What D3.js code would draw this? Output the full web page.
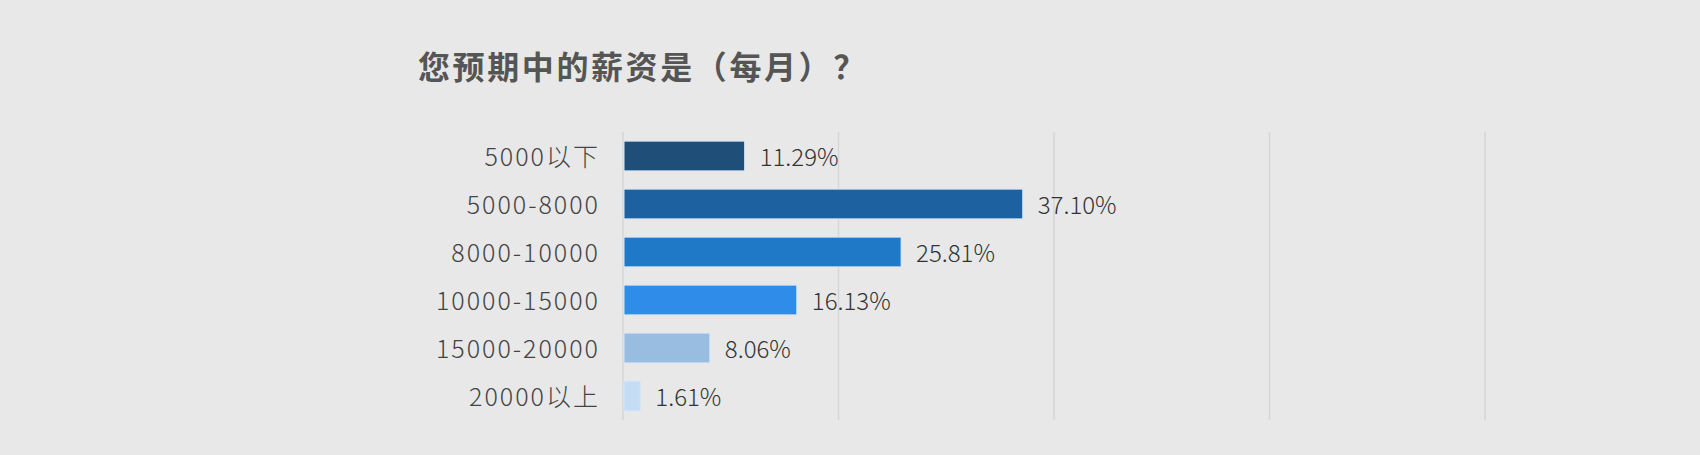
<!DOCTYPE html>
<html>
<head>
<meta charset="utf-8">
<script src="https://cdn.jsdelivr.net/npm/d3@7"></script>
<style>
  html, body { margin: 0; padding: 0; background: #e8e8e8; }
  svg { display: block; }
</style>
</head>
<body>
<div id="chart"></div>
<script>
(function () {
    'use strict';

    var titleText = '您预期中的薪资是（每月）？';
    var categories = ['5000以下', '5000-8000', '8000-10000', '10000-15000', '15000-20000', '20000以上'];
    var percents = [11.29, 37.10, 25.81, 16.13, 8.06, 1.61];
    var barColors = ['#1f4e78', '#1d61a0', '#1f79c7', '#2f8ce8', '#99bce1', '#c4ddf5'];
    var gridTicks = [0, 20, 40, 60, 80];

    var width = 1700;
    var height = 455;
    var margin = { top: 132, left: 623, right: 215, bottom: 35 };

    var svg = d3.select('#chart').append('svg')
        .attr('width', width)
        .attr('height', height);

    svg.append('rect')
        .attr('width', width)
        .attr('height', height)
        .style('fill', '#e8e8e8');

    svg.append('text')
        .attr('x', 418)
        .attr('y', 79)
        .style('font-family', '"Noto Sans CJK SC", sans-serif')
        .style('font-weight', 700)
        .style('font-size', '32px')
        .style('letter-spacing', '2.6px')
        .style('fill', '#555555')
        .text(titleText);

    var x = d3.scaleLinear()
        .domain([0, 80])
        .range([margin.left, width - margin.right]);

    var y = d3.scaleBand()
        .domain(categories)
        .range([margin.top, height - margin.bottom])
        .paddingInner(0.38)
        .paddingOuter(0.19);

    // vertical grid lines
    svg.append('g')
        .selectAll('line')
        .data(gridTicks)
        .enter().append('line')
        .attr('x1', function (d) { return x(d); })
        .attr('x2', function (d) { return x(d); })
        .attr('y1', margin.top)
        .attr('y2', height - margin.bottom)
        .style('stroke', '#d6d6d6')
        .style('stroke-width', 1.5);

    // category labels
    svg.append('g')
        .selectAll('text')
        .data(categories)
        .enter().append('text')
        .attr('x', 600)
        .attr('y', function (d) { return y(d) + y.bandwidth() / 2; })
        .attr('dy', '0.38em')
        .attr('text-anchor', 'end')
        .style('font-family', '"Noto Sans CJK SC", sans-serif')
        .style('font-weight', 300)
        .style('font-size', '25px')
        .style('letter-spacing', '2px')
        .style('fill', '#444444')
        .text(function (d) { return d; });

    // bars
    svg.append('g')
        .selectAll('rect')
        .data(percents)
        .enter().append('rect')
        .attr('x', x(0) + 1)
        .attr('y', function (d, i) { return y(categories[i]); })
        .attr('width', function (d) { return x(d) - x(0) - 1; })
        .attr('height', y.bandwidth())
        .style('fill', function (d, i) { return barColors[i]; })
        .style('stroke', '#d6e6f5')
        .style('stroke-width', 1);

    // value labels
    svg.append('g')
        .selectAll('text')
        .data(percents)
        .enter().append('text')
        .attr('x', function (d) { return x(d) + 15; })
        .attr('y', function (d, i) { return y(categories[i]) + y.bandwidth() / 2; })
        .attr('dy', '0.4em')
        .style('font-family', '"Noto Sans CJK SC", sans-serif')
        .style('font-weight', 300)
        .style('font-size', '24px')
        .style('fill', '#333333')
        .text(function (d) { return d.toFixed(2) + '%'; });
})();
</script>
</body>
</html>
